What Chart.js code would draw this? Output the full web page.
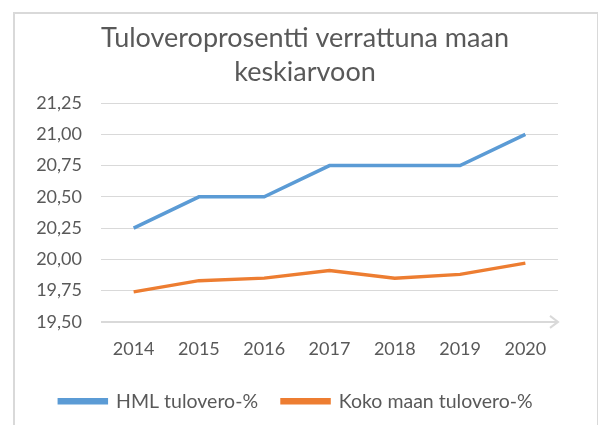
<!DOCTYPE html>
<html>
<head>
<meta charset="utf-8">
<script src="https://cdn.jsdelivr.net/npm/chart.js@4/dist/chart.umd.min.js"></script>
<style>
  html, body { margin: 0; padding: 0; background: #fff; overflow: hidden; }
  #frame { position: absolute; left: 13px; top: 12px; width: 586px; height: 430px; border: 2px solid #d9d9d9; box-sizing: border-box; }
  #wrap { position: absolute; left: 0; top: 0; width: 598px; height: 425px; }
</style>
</head>
<body>
<div id="frame"></div>
<div id="wrap"><canvas id="chart" width="598" height="425"></canvas></div>
<script>
const years = ['2014', '2015', '2016', '2017', '2018', '2019', '2020']
const hml = [20.25, 20.5, 20.5, 20.75, 20.75, 20.75, 21.0]
const koko = [19.74, 19.83, 19.85, 19.91, 19.85, 19.88, 19.97]
const yTicks = [19.5, 19.75, 20.0, 20.25, 20.5, 20.75, 21.0, 21.25]

const fontFam = 'Lato, "Open Sans", sans-serif'
const grey = '#595959'

// x axis line with the little arrow at its end
const axisArrow = {
  id: 'axisArrow',
  afterDraw (chart) {
    const { ctx, chartArea, scales } = chart
    const y = scales.y.getPixelForValue(19.5)
    const x = chartArea.right
    ctx.save()
    ctx.strokeStyle = '#d9d9d9'
    ctx.lineWidth = 2
    ctx.beginPath()
    ctx.moveTo(chartArea.left, y)
    ctx.lineTo(x, y)
    ctx.moveTo(x - 8, y - 6)
    ctx.lineTo(x, y)
    ctx.lineTo(x - 8, y + 6)
    ctx.stroke()
    ctx.restore()
  }
}

// centre the title over the framed box rather than the padded area
const titleCentre = {
  id: 'titleCentre',
  afterLayout (chart) {
    if (chart.titleBlock) {
      chart.titleBlock.left = 13
      chart.titleBlock.right = 597
    }
  }
}

new Chart(document.getElementById('chart'), {
  type: 'line',
  data: {
    labels: years,
    datasets: [
      { label: 'HML tulovero-%', data: hml, borderColor: '#5B9BD5', backgroundColor: '#5B9BD5', borderWidth: 3.5, pointRadius: 0, tension: 0 },
      { label: 'Koko maan tulovero-%', data: koko, borderColor: '#ED7D31', backgroundColor: '#ED7D31', borderWidth: 3.5, pointRadius: 0, tension: 0 }
    ]
  },
  options: {
    responsive: false,
    animation: false,
    layout: { padding: { left: 34, right: 40, top: 21, bottom: 4 } },
    plugins: {
      title: {
        display: true,
        text: ['Tuloveroprosentti verrattuna maan', 'keskiarvoon'],
        color: grey,
        font: { family: fontFam, size: 27, weight: 'normal', lineHeight: 1.26 },
        padding: { top: 0, bottom: 14 }
      },
      legend: {
        position: 'bottom',
        labels: {
          color: grey,
          font: { family: fontFam, size: 19.5 },
          boxWidth: 47,
          boxHeight: 3,
          padding: 24
        }
      },
      tooltip: { enabled: false }
    },
    scales: {
      x: {
        offset: true,
        grid: { display: false },
        border: { display: false },
        ticks: { color: grey, font: { family: fontFam, size: 18 }, padding: 8 }
      },
      y: {
        min: 19.5,
        max: 21.25,
        afterBuildTicks (axis) { axis.ticks = yTicks.map(v => ({ value: v })) },
        afterFit (axis) { axis.width = 67 },
        grid: { color: '#d9d9d9', lineWidth: 1, drawTicks: false },
        border: { display: false },
        ticks: {
          color: grey,
          font: { family: fontFam, size: 18 },
          padding: 19,
          callback: v => v.toFixed(2).replace('.', ',')
        }
      }
    }
  },
  plugins: [axisArrow, titleCentre]
})
</script>
</body>
</html>
